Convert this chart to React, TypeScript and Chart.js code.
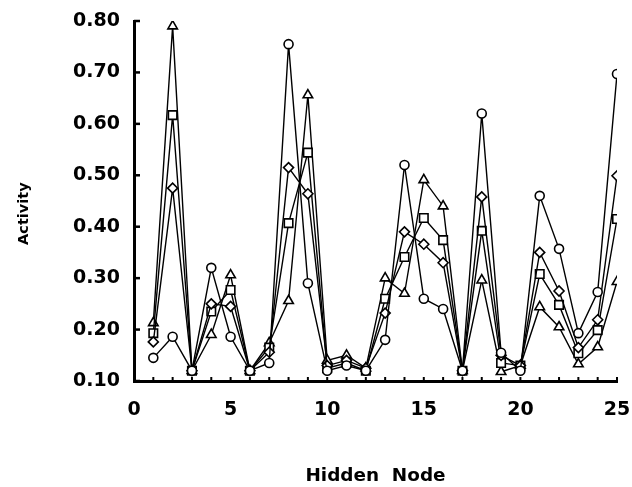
import React, { useEffect, useRef } from "react";
import { Chart, registerables } from "chart.js";

Chart.register(...registerables);

const hiddenNodes = [1, 2, 3, 4, 5, 6, 7, 8, 9, 10, 11, 12, 13, 14, 15, 16, 17, 18, 19, 20, 21, 22, 23, 24, 25];
const circleSeries = [0.145, 0.186, 0.12, 0.32, 0.186, 0.12, 0.135, 0.755, 0.29, 0.12, 0.13, 0.12, 0.18, 0.52, 0.26, 0.24, 0.12, 0.62, 0.155, 0.12, 0.46, 0.357, 0.193, 0.273, 0.697];
const diamondSeries = [0.176, 0.475, 0.12, 0.25, 0.245, 0.12, 0.156, 0.515, 0.464, 0.13, 0.14, 0.125, 0.232, 0.39, 0.366, 0.33, 0.12, 0.458, 0.15, 0.13, 0.35, 0.275, 0.165, 0.219, 0.499];
const squareSeries = [0.193, 0.617, 0.12, 0.235, 0.277, 0.12, 0.165, 0.407, 0.544, 0.125, 0.135, 0.12, 0.26, 0.341, 0.417, 0.374, 0.12, 0.392, 0.135, 0.13, 0.308, 0.248, 0.154, 0.199, 0.415];
const triangleSeries = [0.213, 0.79, 0.12, 0.19, 0.306, 0.12, 0.174, 0.256, 0.656, 0.14, 0.15, 0.125, 0.3, 0.27, 0.491, 0.44, 0.12, 0.296, 0.118, 0.13, 0.244, 0.205, 0.133, 0.166, 0.293];

const xMin = 0;
const xMax = 25;
const yMin = 0.1;
const yMax = 0.8;
const xLabelStep = 5;

const W = 632;
const H = 487;

const tickFont = { family: "'DejaVu Sans', sans-serif", size: 19, weight: "bold" as const };

const inwardTicks = {
  id: "inwardTicks",
  afterDraw(chart: any) {
    const ctx = chart.ctx;
    const xs = chart.scales.x;
    const ys = chart.scales.y;
    const area = chart.chartArea;
    ctx.save();
    ctx.strokeStyle = "#000";
    ctx.lineWidth = 2.5;
    ys.ticks.forEach((_t: any, i: number) => {
      const y = ys.getPixelForTick(i);
      ctx.beginPath();
      ctx.moveTo(area.left, y);
      ctx.lineTo(area.left + 6, y);
      ctx.stroke();
    });
    ctx.lineWidth = 2;
    xs.ticks.forEach((_t: any, i: number) => {
      const x = xs.getPixelForTick(i);
      ctx.beginPath();
      ctx.moveTo(x, area.bottom);
      ctx.lineTo(x, area.bottom - 4);
      ctx.stroke();
    });
    ctx.restore();
  },
};

const radiusFor: Record<string, number> = { circle: 4.5, rectRot: 5, rect: 6, triangle: 5.5 };

function makeDataset(values: number[], style: string) {
  return {
    data: hiddenNodes.map((n, i) => ({ x: n, y: values[i] })),
    borderColor: "#000",
    borderWidth: 1.4,
    pointStyle: style,
    pointRadius: radiusFor[style],
    pointBackgroundColor: "#fff",
    pointBorderColor: "#000",
    pointBorderWidth: 1.6,
    tension: 0,
    fill: false,
  };
}

export default function App() {
  const ref = useRef<HTMLCanvasElement | null>(null);
  useEffect(() => {
    if (!ref.current) return;
    const chart = new Chart(ref.current, {
      type: "line",
      data: {
        datasets: [
          makeDataset(circleSeries, "circle"),
          makeDataset(diamondSeries, "rectRot"),
          makeDataset(squareSeries, "rect"),
          makeDataset(triangleSeries, "triangle"),
        ] as any,
      },
      options: {
        animation: false,
        responsive: false,
        devicePixelRatio: 1,
        layout: { padding: { left: 0, right: 15, top: 21, bottom: 0 } },
        plugins: { legend: { display: false }, tooltip: { enabled: false } },
        scales: {
          x: {
            type: "linear",
            min: xMin,
            max: xMax,
            afterFit: (s: any) => {
              s.height = 106;
              s.paddingLeft = 0;
              s.paddingRight = 0;
            },
            ticks: {
              stepSize: 1,
              autoSkip: false,
              maxRotation: 0,
              color: "#000",
              font: tickFont,
              padding: 18,
              callback: (v: any) => (Number(v) % xLabelStep === 0 ? String(v) : ""),
            },
            grid: { drawOnChartArea: false, drawTicks: false },
            border: { color: "#000", width: 3 },
            title: {
              display: true,
              text: "Hidden  Node",
              color: "#000",
              font: { family: "'DejaVu Sans', sans-serif", size: 18.4, weight: "bold" as const },
              padding: { top: 0, bottom: 0 },
            },
          },
          y: {
            type: "linear",
            min: yMin,
            max: yMax,
            afterFit: (s: any) => {
              s.width = 134;
              s.paddingTop = 0;
              s.paddingBottom = 0;
            },
            ticks: {
              stepSize: 0.1,
              color: "#000",
              font: tickFont,
              padding: 14,
              callback: (v: any) => Number(v).toFixed(2),
            },
            grid: { drawOnChartArea: false, drawTicks: false },
            border: { color: "#000", width: 3 },
            title: {
              display: true,
              text: "Activity     ",
              color: "#000",
              font: { family: "'DejaVu Sans', sans-serif", size: 14.5, weight: "bold" as const },
              padding: { top: 16, bottom: 0 },
            },
          },
        },
      },
      plugins: [inwardTicks],
    });
    return () => chart.destroy();
  }, []);
  return (
    <div style={{ position: "fixed", left: 0, top: 0, width: W, height: H, background: "#fff" }}>
      <canvas ref={ref} width={W} height={H} style={{ display: "block", width: W, height: H }} />
    </div>
  );
}
